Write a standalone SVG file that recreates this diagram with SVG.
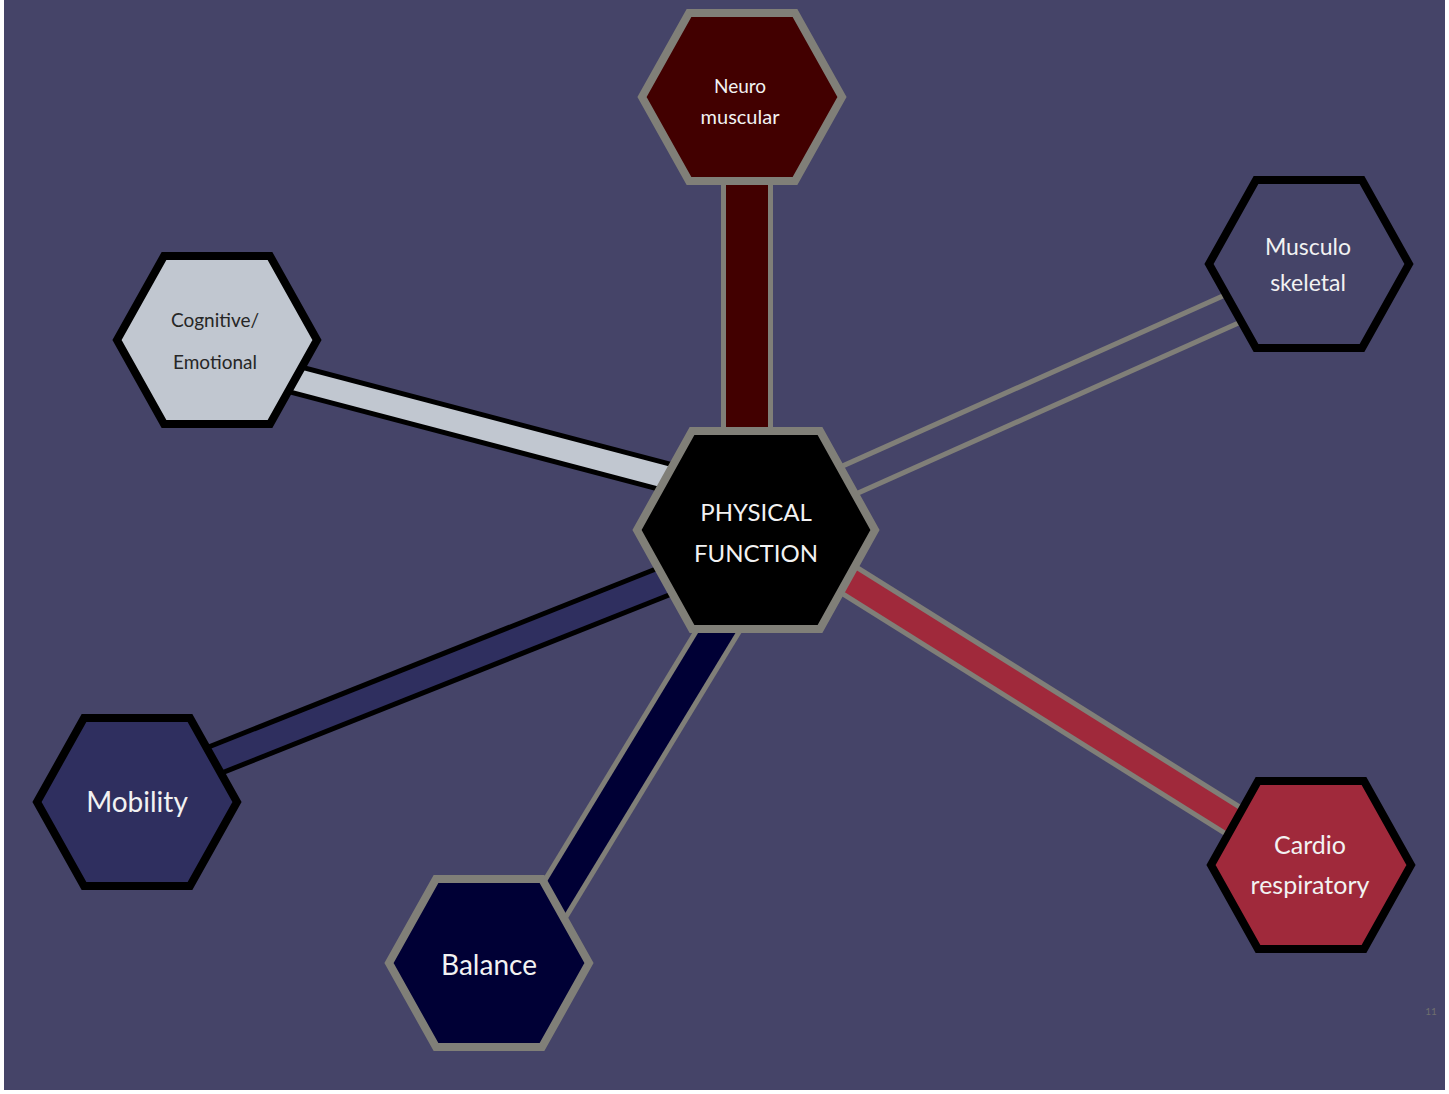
<svg xmlns="http://www.w3.org/2000/svg" xmlns:xlink="http://www.w3.org/1999/xlink" width="1449" height="1094" viewBox="0 0 1449 1094">
<defs>
<style>
.lbl{font-family:Lato,"Open Sans","Noto Sans",sans-serif;text-anchor:middle;fill:#f2f2f2}
.dark{fill:#262626}
.hex{stroke-width:8;stroke-linejoin:miter}
.gb{stroke:#807f78}
.bb{stroke:#000}
</style>
<polygon id="hs" points="-100,0 -53,-84 53,-84 100,0 53,84 -53,84"/>
<polygon id="hc" points="-119,0 -64,-99 64,-99 119,0 64,99 -64,99"/>
</defs>
<rect x="0" y="0" width="1449" height="1094" fill="#ffffff"/>
<rect x="4" y="0" width="1441" height="1090" fill="#454468"/>
<g id="connectors" fill="none" stroke-linecap="butt">
<line x1="747" y1="150" x2="747" y2="480" stroke="#807f78" stroke-width="52"/>
<line x1="747" y1="150" x2="747" y2="480" stroke="#420000" stroke-width="42"/>
<line x1="250" y1="367.5" x2="700" y2="486" stroke="#000" stroke-width="32"/>
<line x1="250" y1="367.5" x2="700" y2="486" stroke="#c1c7d0" stroke-width="22"/>
<line x1="180" y1="774" x2="680" y2="575" stroke="#000" stroke-width="34"/>
<line x1="180" y1="774" x2="680" y2="575" stroke="#2f2f5f" stroke-width="24"/>
<line x1="518" y1="960" x2="752" y2="575" stroke="#807f78" stroke-width="42"/>
<line x1="518" y1="960" x2="752" y2="575" stroke="#000035" stroke-width="32"/>
<line x1="820" y1="562" x2="1280" y2="850" stroke="#807f78" stroke-width="35"/>
<line x1="820" y1="562" x2="1280" y2="850" stroke="#a0293b" stroke-width="25"/>
<line x1="800" y1="502" x2="1290" y2="283" stroke="#807f78" stroke-width="36"/>
<line x1="800" y1="502" x2="1290" y2="283" stroke="#454468" stroke-width="26"/>
</g>
<g id="neuro">
<use xlink:href="#hs" transform="translate(742,97)" class="hex gb" fill="#420000"/>
<text class="lbl" x="740" y="93" font-size="19">Neuro</text>
<text class="lbl" x="740" y="124" font-size="20">muscular</text>
</g>
<g id="musculo">
<use xlink:href="#hs" transform="translate(1309,264)" class="hex bb" fill="#454468"/>
<text class="lbl" x="1308" y="255" font-size="23">Musculo</text>
<text class="lbl" x="1308" y="291" font-size="23">skeletal</text>
</g>
<g id="cognitive">
<use xlink:href="#hs" transform="translate(217,340)" class="hex bb" fill="#c1c7d0"/>
<text class="lbl dark" x="215" y="327" font-size="19">Cognitive/</text>
<text class="lbl dark" x="215" y="369" font-size="19">Emotional</text>
</g>
<g id="mobility">
<use xlink:href="#hs" transform="translate(137,802)" class="hex bb" fill="#2f2f5f"/>
<text class="lbl" x="137" y="812" font-size="28">Mobility</text>
</g>
<g id="balance">
<use xlink:href="#hs" transform="translate(489,963)" class="hex gb" fill="#000035"/>
<text class="lbl" x="489" y="975" font-size="28">Balance</text>
</g>
<g id="cardio">
<use xlink:href="#hs" transform="translate(1311,865)" class="hex bb" fill="#a0293b"/>
<text class="lbl" x="1310" y="854" font-size="25">Cardio</text>
<text class="lbl" x="1310" y="894" font-size="25">respiratory</text>
</g>
<g id="physical">
<use xlink:href="#hc" transform="translate(756,530)" class="hex gb" fill="#000"/>
<text class="lbl" x="756" y="521" font-size="24">PHYSICAL</text>
<text class="lbl" x="756" y="562" font-size="24">FUNCTION</text>
</g>
<text x="1431" y="1015" font-family="Lato,sans-serif" font-size="10" fill="#6e6e6e" text-anchor="middle">11</text>
</svg>
